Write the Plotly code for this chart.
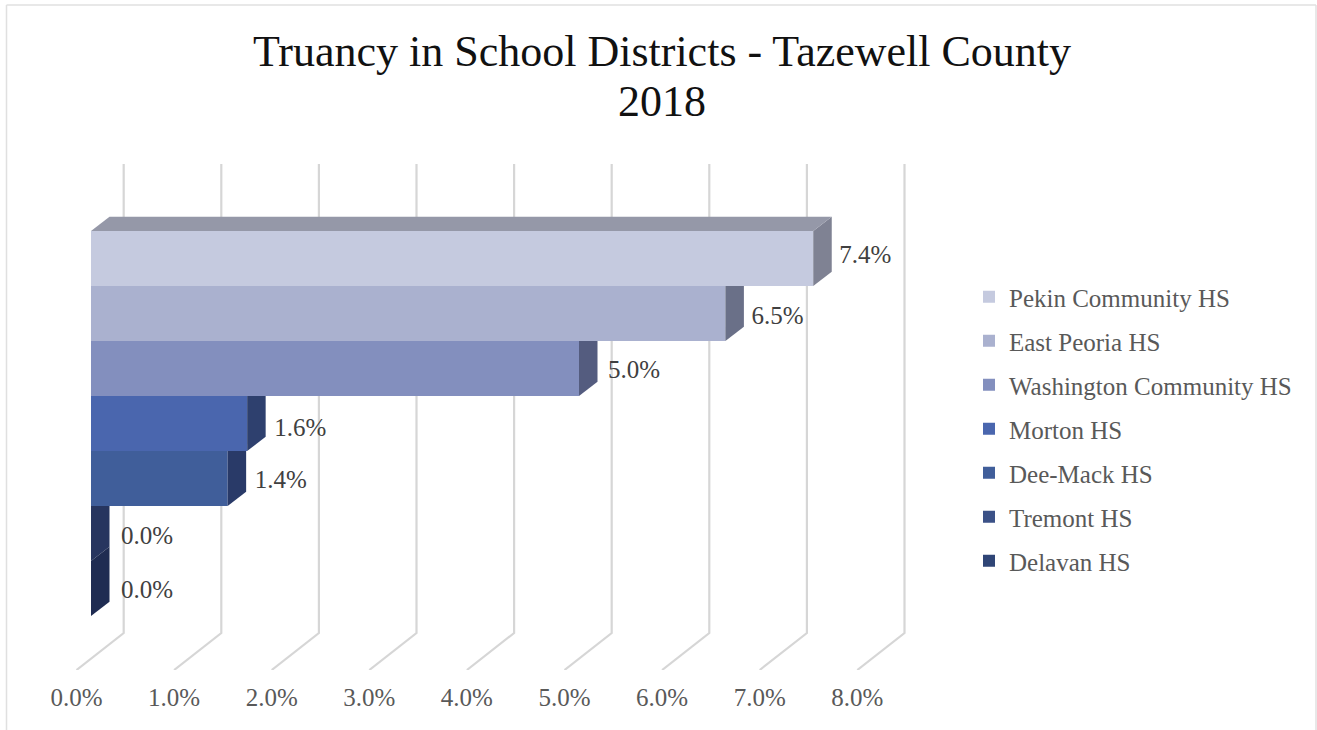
import plotly.graph_objects as go

# ---- data -------------------------------------------------------------
districts = ["Pekin Community HS", "East Peoria HS", "Washington Community HS",
             "Morton HS", "Dee-Mack HS", "Tremont HS", "Delavan HS"]
truancy_pct = [7.4, 6.5, 5.0, 1.6, 1.4, 0.0, 0.0]
tick_values = [0, 1, 2, 3, 4, 5, 6, 7, 8]
tick_labels = ["0.0%", "1.0%", "2.0%", "3.0%", "4.0%", "5.0%", "6.0%", "7.0%", "8.0%"]
title_lines = ["Truancy in School Districts - Tazewell County", "2018"]

# ---- styles -----------------------------------------------------------
front_colors = ["#c5cadf", "#aab1cf", "#838fbe", "#4a66ae", "#405e9a", "#3b5187", "#2f4576"]
side_colors = ["#7f8293", "#6a7088", "#545c7f", "#2e406e", "#293a68", "#27355f", "#1f2c52"]
top_color = "#9598a8"
grid_color = "#d6d6d6"
FONT = "Liberation Serif"

W, H = 1317, 730
PLOT_BOTTOM = 670            # pixel row of the x axis
PX_PER_X = 97.6
PX_PER_ROW = 55
X0_PX = 76.5                 # pixel column of x = 0 at the front of the floor
ROW0_PX = 258.5              # pixel row of the first bar centre

def dx(px):
    return px / PX_PER_X

def dy(px):
    return px / PX_PER_ROW

bar_base = dx(14.5)          # bars stand in from the floor front
bar_dx, bar_dy = dx(18.5), dy(14.2)
floor_dx, floor_dy = dx(47.2), dy(37)
grid_top = (ROW0_PX - 164) / PX_PER_ROW   # rows above first bar centre
floor_front = (PLOT_BOTTOM - ROW0_PX) / PX_PER_ROW
label_nudge = [-2, 4, 3, 6, 3, 4, 3]
label_gap = [26, 26, 29, 27, 27, 30, 30]

fig = go.Figure()

for i, (name, val) in enumerate(zip(districts, truancy_pct)):
    fig.add_trace(go.Bar(
        x=[val], y=[i], base=bar_base, width=1, orientation="h", name=name,
        legendgroup=name, marker=dict(color=front_colors[i], line=dict(width=0)),
        hovertemplate=f"{name}: {val:.1f}%<extra></extra>"))

for i, (name, val) in enumerate(zip(districts, truancy_pct)):
    right = bar_base + val
    clipped = i > 0 and truancy_pct[i - 1] + bar_base > right + bar_dx * 0.9
    top_back = i - 0.5 if clipped else i - 0.5 - bar_dy
    fig.add_trace(go.Scatter(
        x=[right, right, right + bar_dx, right + bar_dx, right],
        y=[i - 0.5, i + 0.5, i + 0.5 - bar_dy, top_back, i - 0.5],
        mode="lines", fill="toself", fillcolor=side_colors[i], line=dict(width=0),
        legendgroup=name, showlegend=False, hoverinfo="skip"))
    if i == 0:
        fig.add_trace(go.Scatter(
            x=[bar_base, right, right + bar_dx, bar_base + bar_dx, bar_base],
            y=[-0.5, -0.5, -0.5 - bar_dy, -0.5 - bar_dy, -0.5],
            mode="lines", fill="toself", fillcolor=top_color, line=dict(width=0),
            legendgroup=name, showlegend=False, hoverinfo="skip"))

fig.add_trace(go.Scatter(
    x=[bar_base + v + dx(g) for v, g in zip(truancy_pct, label_gap)],
    y=[i + dy(n) for i, n in enumerate(label_nudge)],
    mode="text", text=[f"{v:.1f}%" for v in truancy_pct],
    textposition="middle right", textfont=dict(family=FONT, size=25, color="#404040"),
    showlegend=False, hoverinfo="skip"))

# walls and floor lines of the 3-D frame, behind the bars
shapes = []
for t in tick_values:
    shapes.append(dict(
        type="path", xref="x", yref="y", layer="below",
        path=(f"M {t},{floor_front} L {t + floor_dx},{floor_front - floor_dy} "
              f"L {t + floor_dx},{-grid_top}"),
        line=dict(color=grid_color, width=2.2)))

# outer chart frame
def fx(p):
    return p / W

def fy(p):
    return 1 - p / PLOT_BOTTOM

for x0, y0, x1, y1 in [(6.5, 5, 1316, 5), (6.5, 5, 6.5, H), (1316, 5, 1316, H)]:
    shapes.append(dict(type="line", xref="paper", yref="paper", layer="below",
                       x0=fx(x0), y0=fy(y0), x1=fx(x1), y1=fy(y1),
                       line=dict(color="#e0e0e0", width=1.5)))

title_text = "<br>".join(f'<span style="font-size:44px">{t}</span>' for t in title_lines)

fig.update_layout(
    width=W, height=H, autosize=False, barmode="overlay",
    margin=dict(l=0, r=0, t=0, b=H - PLOT_BOTTOM, autoexpand=False),
    paper_bgcolor="white", plot_bgcolor="white",
    title=dict(text=title_text, x=662 / W, xanchor="center", y=1 - 66 / H, yanchor="middle",
               font=dict(family=FONT, size=38.5, color="#111111")),
    xaxis=dict(range=[-X0_PX / PX_PER_X, (W - X0_PX) / PX_PER_X], tickmode="array",
               tickvals=tick_values, ticktext=tick_labels, showgrid=False, zeroline=False,
               showline=False, ticks="outside", ticklen=5, tickcolor="rgba(0,0,0,0)",
               tickfont=dict(family=FONT, size=25, color="#595959")),
    yaxis=dict(range=[(PLOT_BOTTOM - ROW0_PX) / PX_PER_ROW, -ROW0_PX / PX_PER_ROW],
               showgrid=False, zeroline=False, showticklabels=False, showline=False, ticks=""),
    legend=dict(x=969 / W, xanchor="left", y=fy(274), yanchor="top", bgcolor="rgba(0,0,0,0)",
                tracegroupgap=8.5, font=dict(family=FONT, size=25, color="#595959")),
    shapes=shapes,
)

fig.write_html("out.html", config={"displayModeBar": False},
               post_script="document.body.style.margin='0';")
